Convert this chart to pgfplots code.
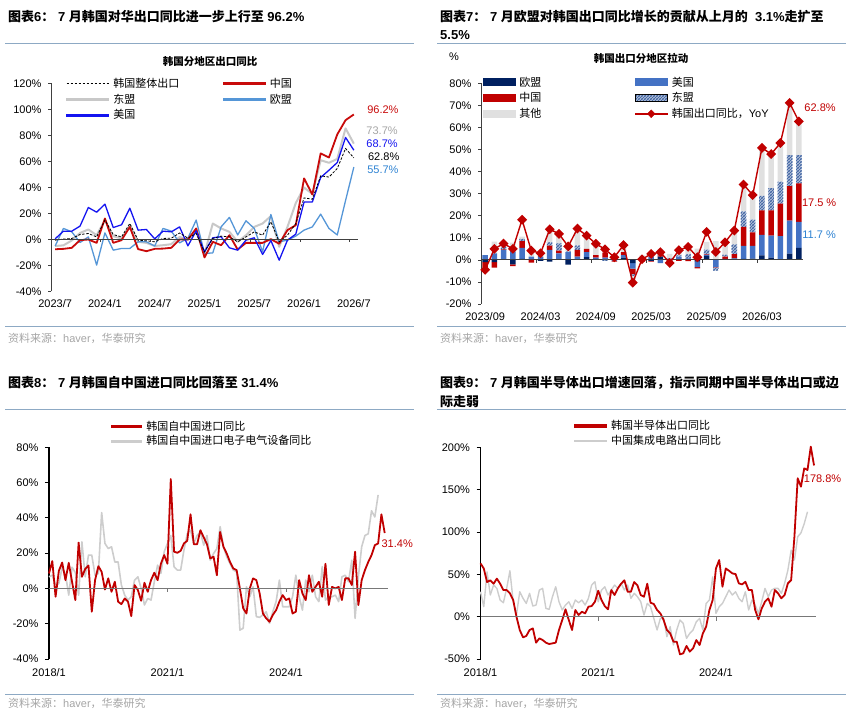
\documentclass[border=0pt]{standalone}
\usepackage{fontspec}
\setmainfont{Liberation Sans}
\newfontfamily\cjk{Noto Sans CJK SC}
\newcommand\zh[1]{{\cjk #1}}
\usepackage{pgfplots}
\pgfplotsset{compat=1.18}
\usepackage{pgfplotstable}
\usetikzlibrary{patterns}
\pgfdeclarepatternformonly{stripes}{\pgfqpoint{-1pt}{-1pt}}{\pgfqpoint{4pt}{4pt}}{\pgfqpoint{3pt}{3pt}}{%
  \pgfsetlinewidth{1.1pt}%
  \pgfpathmoveto{\pgfqpoint{-0.5pt}{-0.5pt}}%
  \pgfpathlineto{\pgfqpoint{3.5pt}{3.5pt}}%
  \pgfusepath{stroke}}
\definecolor{sepcol}{RGB}{141,169,196}
\definecolor{footgray}{RGB}{165,165,165}
\definecolor{axdark}{RGB}{64,64,64}
\definecolor{zgray}{RGB}{120,120,120}
\definecolor{cnred}{RGB}{200,10,10}
\definecolor{asgray}{RGB}{200,200,200}
\definecolor{usblue}{RGB}{20,20,240}
\definecolor{eublue}{RGB}{85,150,215}
\definecolor{lbllblue}{RGB}{45,130,210}
\definecolor{lblgray}{RGB}{165,165,165}
\definecolor{euNavy}{RGB}{0,32,96}
\definecolor{usB}{RGB}{68,114,196}
\definecolor{cnR}{RGB}{192,0,0}
\definecolor{hatchB}{RGB}{70,105,165}
\definecolor{otGray}{RGB}{224,224,224}
\definecolor{bgray}{RGB}{205,205,205}

\pgfplotstableread{
m tot cn as eu us
0 -0.5 -7.5 -5 -5 0.5
1 0.3 -7.2 -4.5 8.5 6.4
2 0.8 -6.4 -0.8 5.9 6.4
3 3.8 -0.5 5 -2.3 10.3
4 4.6 0 7.7 2 24.6
5 2 -2.6 3.3 -19.7 21
6 15 16.2 15 5.1 27.2
7 3.8 -2.6 2.5 -8.2 9.2
8 2 -0.5 0.8 -6.9 11.3
9 12.3 9.7 10.5 -6.9 24.1
10 -0.5 -7.4 -1.8 -1.8 7.2
11 -1 -9 -2.6 -1.8 7.7
12 -1.8 -7.2 -5 -5 0.5
13 0.8 -7 -4.4 8.5 6.4
14 1 -6.4 -3.6 6.4 5.9
15 5 0 2 -2.6 9.7
16 1 0 -0.5 1 -4.9
17 4.6 8.5 5.9 15 6.7
18 -9.5 -13.8 -11 -10.8 -9.5
19 0.8 -1.8 12.3 -10.3 1.3
20 2.6 -4.4 8.5 9.7 2.1
21 2 3.3 5.9 17 -6.4
22 -1.8 -7.7 -1.8 3.5 -8.2
23 2 -2.6 3.3 14.4 -0.5
24 5.9 -2.6 9.7 8.5 1.3
25 3.3 -2.6 12.3 -9.5 -11.5
26 13.6 0.3 18 19.2 -0.8
27 -1.8 -3.3 -5.6 -1.8 -15.9
28 3.3 7.2 9.7 -0.5 -0.5
29 12.3 11 28 2.6 4.1
30 32 47 40 7.2 28.9
31 31 34.6 35 9.7 28.9
32 49 66.2 61 19.5 47.7
33 48 63.1 59 8.5 53.3
34 54.6 80.8 62 3.5 59.2
35 70 91.8 85.5 30 78.5
36 62.8 96.2 73.7 55.7 68.7
}\tlA

\pgfplotstableread{
i eu us cn as ot
0 0 2.2 0 0 0
1 0 3.0 0 0 5.3
2 0 4.5 0.3 1.0 2.5
3 0 3.5 0 0.5 3.8
4 0.5 5.0 3.0 1.0 1.0
5 0 1.5 0 0 1.5
6 0 1.2 0.2 0.3 1.5
7 0 4.5 2.0 1.5 6.0
8 0 3.0 1.2 3.3 4.0
9 0 3.5 0 0.3 2.0
10 0.3 1.2 3.0 2.0 6.5
11 1.3 2.2 1.5 0 5.0
12 0.5 0.5 1.2 0 5.0
13 0.3 0.7 2.3 0 1.5
14 0 0 0 0 1.8
15 1.0 1.2 1.3 0 2.5
16 0 0 0 0 0
17 0 0 0 0 2.0
18 0 1.5 0 0 2.1
19 1.5 0 0.5 0.5 2.5
20 0.2 0 0 0.5 2.0
21 0.3 1.2 0 0.5 2.8
22 0.2 0.5 0 1.8 3.9
23 0 0 0 0 5.1
24 1.8 0.5 0.2 2.2 3.5
25 0 0 0 0 8.5
26 0.3 0.2 1.0 0.8 5.8
27 0.5 0.2 1.9 4.4 6.2
28 0.5 5.8 8.7 7.0 12.2
29 0.6 5.7 6.2 5.8 11.0
30 2.0 9.3 11.2 6.5 21.5
31 1.0 10.0 11.5 10.0 15.5
32 0.3 10.5 14.7 10.0 17.5
33 2.8 15.0 15.7 14.0 23.5
34 5.5 11.7 17.5 12.8 15.3
}\trpos

\pgfplotstableread{
i eu us cn as ot
0 -1.0 0 -2.5 0 -1.0
1 -1.0 0 -2.5 0 0
2 0 0 0 0 0
3 -2.0 0 -0.8 0 0
4 0 0 0 0 0
5 0 0 -1.2 0 0
6 -0.5 0 0 0 0
7 -0.8 0 0 0 0
8 0 0 0 0 0
9 -2.2 0 0 0 0
10 0 0 0 0 0
11 0 0 0 0 0
12 0 0 0 0 0
13 0 0 0 -0.5 0
14 0 -0.5 -0.3 0 0
15 0 0 0 0 0
16 -1.5 -2.5 -2.5 -0.8 -3.0
17 0 -0.3 -0.5 0 0
18 -0.5 0 -0.3 0 0
19 0 -1.5 0 0 0
20 0 -1.2 -0.5 0 0
21 0 0 -0.5 0 0
22 0 0 -0.6 0 0
23 -0.8 -2.5 -0.5 0 0
24 0 0 0 0 0
25 0 -3.2 -0.2 -1.5 0
}\trneg

\pgfplotstableread{
i yoy
0 -4.5
1 5.0
2 7.4
3 5.0
4 18.2
5 4.2
6 3.0
7 13.9
8 11.8
9 6.1
10 14.2
11 11.0
12 7.3
13 4.8
14 1.2
15 6.7
16 -10.3
17 0.3
18 2.7
19 3.5
20 -1.4
21 4.4
22 5.9
23 1.2
24 12.7
25 3.6
26 8.0
27 13.3
28 34.2
29 29.4
30 50.8
31 48.0
32 53.0
33 71.2
34 62.8
}\tryoy

\pgfplotstableread{
m v
0 8.5
1 15.5
2 -4.7
3 10
4 14.7
5 4.7
6 14.5
7 3.8
8 -6.6
9 26
10 6.6
11 11
12 13
13 -13.2
14 4.7
15 12.6
16 9.4
17 -0.6
18 5.7
19 -1.9
20 3.8
21 -7.5
22 -8.9
23 -5.7
24 -7.5
25 -15.7
26 1.9
27 -0.9
28 -7
29 3.2
30 -1.9
31 4.7
32 8.9
33 4.7
34 14
35 18.9
36 14
37 62
38 20.8
39 20.2
40 21.3
41 25.5
42 27
43 42
44 25
45 25
46 33
47 29
48 25
49 17
50 18
51 7.5
52 32
53 23.6
54 19.8
55 15
56 11.3
57 10.4
58 0
59 -11.3
60 -14.2
61 0
62 5.7
63 4.7
64 -2.8
65 -14.2
66 -17
67 -18.9
68 -15
69 -12.3
70 -7.5
71 -3.8
72 -6.6
73 -5.7
74 -14.2
75 -13.2
76 4.7
77 -2.8
78 -6.6
79 7.5
80 -1.9
81 0.9
82 3.8
83 -4.7
84 14
85 -9.4
86 0.9
87 0
88 0.9
89 -6.6
90 5.7
91 5.7
92 1.9
93 20.8
94 -9.4
95 4.7
96 10.4
97 15
98 18.9
99 24.5
100 25.5
101 42
102 31.4
}\blRed

\pgfplotstableread{
m v
0 6.6
1 7.5
2 2
3 2.8
4 12
5 8
6 -3.8
7 12
8 9
9 -3.8
10 26.4
11 6.6
12 18.9
13 18.9
14 7.5
15 8.5
16 43
17 25.5
18 22.6
19 23.6
20 15
21 15
22 1.9
23 -3.8
24 -6.6
25 -4.7
26 4.7
27 6.6
28 0
29 -9.4
30 -5.7
31 -6.6
32 3.8
33 13.2
34 8.5
35 20.8
36 25.5
37 30
38 12.3
39 10.4
40 10.4
41 21.7
42 31
43 33
44 25.5
45 30
46 32
47 24.5
48 30
49 16
50 19.8
51 22.6
52 35
53 23.6
54 18
55 14
56 10.4
57 9.4
58 -23.6
59 -22.6
60 0.9
61 -4.7
62 0.9
63 -16
64 -16.4
65 -15
66 -13.2
67 -19.8
68 -13.2
69 -7.5
70 4.7
71 -10.4
72 -10.4
73 -10.4
74 -4.7
75 7.5
76 -4.7
77 -12.3
78 4.7
79 -1.9
80 7.5
81 -4.7
82 -7.5
83 12.3
84 -6.6
85 -4.7
86 -4.7
87 -3.8
88 -7.5
89 6.6
90 7.5
91 3.8
92 16
93 -17
94 6.6
95 23.6
96 30
97 31
98 44
99 40.5
100 53
}\blGray

\pgfplotstableread{
m v
0 63
1 57
2 41
3 43
4 39
5 45
6 39
7 31.5
8 31.5
9 27.6
10 19.7
11 0
12 -15.7
13 -24.4
14 -22.8
15 -15.7
16 -13.8
17 -30.7
18 -25.6
19 -27.6
20 -30.7
21 -32.3
22 -31.5
23 -30.7
24 -15.7
25 -3.9
26 8.7
27 -3.9
28 -15.7
29 7.9
30 2
31 5.9
32 3.9
33 11.8
34 12.6
35 17.7
36 30.7
37 19.7
38 12.6
39 8.7
40 31.5
41 25.6
42 33.5
43 39
44 43
45 29.5
46 29.5
47 41
48 37
49 25.6
50 23.6
51 39
52 16.5
53 15
54 7.9
55 3.9
56 -3.9
57 -15.7
58 -19.7
59 -29.5
60 -29.5
61 -44.5
62 -43.3
63 -34.6
64 -41.3
65 -37.4
66 -27.6
67 -33.5
68 -19.7
69 -11.8
70 7.9
71 19.7
72 57
73 67
74 35.4
75 57
76 54.3
77 51.2
78 50.4
79 39.4
80 38.2
81 41.3
82 31.5
83 31.5
84 7.9
85 -3.1
86 9.8
87 17.7
88 21.7
89 11.8
90 31.5
91 27.6
92 21.7
93 25.6
94 39.4
95 43.3
96 94.6
97 163.6
98 153.7
99 175.4
100 173.4
101 201
102 178.8
}\brRed

\pgfplotstableread{
m v
0 29.5
1 11.8
2 53
3 25.6
4 37.4
5 33.5
6 19.7
7 16.5
8 33.5
9 54.3
10 17.7
11 2
12 29.5
13 21.7
14 15.7
15 27.6
16 12.6
17 13.8
18 31.5
19 33.5
20 9.8
21 8.7
22 23.6
23 35.4
24 17.7
25 7.9
26 13.8
27 17.7
28 9.8
29 19.7
30 16.5
31 19.7
32 13.8
33 21.7
34 37.4
35 41.3
36 17.7
37 31.5
38 35.4
39 25.6
40 31.5
41 37.4
42 33.5
43 39.4
44 31.5
45 37.4
46 21.7
47 27.6
48 23.6
49 17.7
50 2
51 15.7
52 11.8
53 -2
54 -15.7
55 -2
56 -2
57 -23.6
58 -11.8
59 -33.5
60 -15.7
61 -3.9
62 -7.9
63 -25.6
64 -19.7
65 -15.7
66 -5.9
67 -2
68 -15.7
69 15.7
70 19.7
71 47
72 3.9
73 11.8
74 15.7
75 23.6
76 31.5
77 25.6
78 29.5
79 21.7
80 17.7
81 29.5
82 7.9
83 19.7
84 13.8
85 3.9
86 17.7
87 33.5
88 23.6
89 31.5
90 33.5
91 33.5
92 27.6
93 39.4
94 55
95 78.7
96 67
97 94.5
98 99
99 110
100 124
}\brGray

\pgfplotsset{
  base/.style={scale only axis, clip=false, tick align=outside,
    ticklabel style={font=\fontsize{11}{13}\selectfont},
    axis y line*=left, axis x line*=bottom,
    x axis line style={draw=none}, x tick style={draw=none},
    yticklabel={\pgfmathparse{int(\tick)}\pgfmathresult\%},
    yticklabel style={xshift=-3pt}, xticklabel style={yshift=-2pt},
    legend cell align=left},
  leg/.style={draw=none, fill=none, inner sep=0pt,
    font=\fontsize{11}{13}\selectfont, row sep=2pt, nodes={inner sep=1.5pt}},
}
\tikzset{ttl/.style={anchor=west, inner sep=0pt, font=\bfseries\fontsize{13}{15}\selectfont},
  foot/.style={anchor=west, inner sep=0pt, text=footgray, font=\fontsize{11}{13}\selectfont},
  lbl/.style={font=\fontsize{11}{13}\selectfont, inner sep=0pt}}
% legend swatch: a filled bar of given colour, length and thickness
\newcommand\swatch[3]{\fill[#1] (0pt,-#3/2) rectangle (#2,#3/2);}

\begin{document}
\begin{tikzpicture}[x=1pt,y=1pt]
\useasboundingbox (0,0) rectangle (864,717);

% ---------- titles, separators, footers
\node[ttl] at (8,700) {\zh{图表}6\zh{：} 7 \zh{月韩国对华出口同比进一步上行至} 96.2\%};
\node[ttl] at (440,700) {\zh{图表}7\zh{：} 7 \zh{月欧盟对韩国出口同比增长的贡献从上月的}\ \ 3.1\%\zh{走扩至}};
\node[ttl] at (440,682) {5.5\%};
\node[ttl] at (8,334) {\zh{图表}8\zh{：} 7 \zh{月韩国自中国进口同比回落至} 31.4\%};
\node[ttl] at (440,334) {\zh{图表}9\zh{：} 7 \zh{月韩国半导体出口增速回落，指示同期中国半导体出口或边}};
\node[ttl] at (440,315) {\zh{际走弱}};
\foreach \yy in {673,390,307,23} {
  \draw[sepcol, line width=1pt] (5,\yy) -- (414,\yy);
  \draw[sepcol, line width=1pt] (437,\yy) -- (846,\yy);
}
\node[foot] at (8,379) {\zh{资料来源：}haver\zh{，华泰研究}};
\node[foot] at (440,379) {\zh{资料来源：}haver\zh{，华泰研究}};
\node[foot] at (8,14) {\zh{资料来源：}haver\zh{，华泰研究}};
\node[foot] at (440,14) {\zh{资料来源：}haver\zh{，华泰研究}};
\node[font=\bfseries\fontsize{10.5}{12}\selectfont, inner sep=0pt] at (210,655) {\zh{韩国分地区出口同比}};
\node[font=\bfseries\fontsize{10.5}{12}\selectfont, inner sep=0pt] at (641,659) {\zh{韩国出口分地区拉动}};
\node[lbl] at (454,660) {\%};

% ---------- chart 6
\begin{axis}[base, at={(51pt,425.5pt)}, anchor=south west, width=307pt, height=208pt,
  xmin=-0.5, xmax=36.5, ymin=-40, ymax=120, ytick={-40,-20,...,120},
  xtick={0,6,...,36}, xticklabels={2023/7,2024/1,2024/7,2025/1,2025/7,2026/1,2026/7},
  y axis line style={draw=axdark, line width=0.8pt}, y tick style={draw=axdark, line width=0.6pt},
  major tick length=3pt,
  legend columns=2,
  legend style={leg, at={(axis cs:1.3,125.5)}, anchor=north west,
    /tikz/every odd column/.append style={column sep=3pt},
    /tikz/every even column/.append style={column sep=42pt}}]
\addplot[forget plot, asgray, line width=2pt, line join=round] table[x=m,y=as]{\tlA};
\addplot[forget plot, eublue, line width=1.3pt, line join=round] table[x=m,y=eu]{\tlA};
\addplot[forget plot, cnred, line width=1.8pt, line join=round] table[x=m,y=cn]{\tlA};
\addplot[forget plot, usblue, line width=1.3pt, line join=round] table[x=m,y=us]{\tlA};
\addplot[forget plot, black, line width=0.8pt, dash pattern=on 2.5pt off 1.5pt] table[x=m,y=tot]{\tlA};
\draw[axdark, line width=0.8pt] (axis cs:-0.5,0) -- (axis cs:36.5,0);
\pgfplotsinvokeforeach{5.5,11.5,17.5,23.5,29.5,35.5}{\draw[axdark, line width=0.6pt] (axis cs:#1,0) -- ([yshift=-3pt]axis cs:#1,0);}
\addlegendimage{legend image code/.code={\draw[black, line width=0.8pt, dash pattern=on 2.5pt off 1.5pt] (0pt,0pt) -- (42pt,0pt);}}\addlegendentry{\zh{韩国整体出口}}
\addlegendimage{legend image code/.code={\swatch{cnred}{42pt}{1.9pt}}}\addlegendentry{\zh{中国}}
\addlegendimage{legend image code/.code={\swatch{asgray}{42pt}{2.2pt}}}\addlegendentry{\zh{东盟}}
\addlegendimage{legend image code/.code={\swatch{eublue}{42pt}{1.5pt}}}\addlegendentry{\zh{欧盟}}
\addlegendimage{legend image code/.code={\swatch{usblue}{42pt}{1.5pt}}}\addlegendentry{\zh{美国}}
\node[lbl, text=cnred] at (axis cs:39.5,99.5) {96.2\%};
\node[lbl, text=lblgray] at (axis cs:39.4,84) {73.7\%};
\node[lbl, text=usblue] at (axis cs:39.4,73.3) {68.7\%};
\node[lbl, text=black] at (axis cs:39.6,63.3) {62.8\%};
\node[lbl, text=lbllblue] at (axis cs:39.5,54) {55.7\%};
\end{axis}

% ---------- chart 7 : positive stacks
\begin{axis}[scale only axis, hide axis, clip=false, at={(481pt,413pt)}, anchor=south west,
  width=322pt, height=220.5pt, xmin=-0.45, xmax=34.45, ymin=-20, ymax=80,
  ybar stacked, bar width=5.5pt]
\addplot[fill=euNavy, draw=none] table[x=i,y=eu]{\trpos};
\addplot[fill=usB, draw=none] table[x=i,y=us]{\trpos};
\addplot[fill=cnR, draw=none] table[x=i,y=cn]{\trpos};
\addplot[fill=white, draw=none, postaction={pattern=stripes, pattern color=hatchB}] table[x=i,y=as]{\trpos};
\addplot[fill=otGray, draw=none] table[x=i,y=ot]{\trpos};
\end{axis}
% negative stacks + axes
\begin{axis}[base, at={(481pt,413pt)}, anchor=south west,
  width=322pt, height=220.5pt, xmin=-0.45, xmax=34.45, ymin=-20, ymax=80,
  ytick={-20,-10,...,80}, xtick={0,6,...,30},
  xticklabels={2023/09,2024/03,2024/09,2025/03,2025/09,2026/03},
  y axis line style={draw=axdark, line width=0.8pt}, y tick style={draw=axdark, line width=0.6pt},
  major tick length=3pt, ybar stacked, bar width=5.5pt]
\addplot[fill=euNavy, draw=none] table[x=i,y=eu]{\trneg};
\addplot[fill=usB, draw=none] table[x=i,y=us]{\trneg};
\addplot[fill=cnR, draw=none] table[x=i,y=cn]{\trneg};
\addplot[fill=white, draw=none, postaction={pattern=stripes, pattern color=hatchB}] table[x=i,y=as]{\trneg};
\addplot[fill=otGray, draw=none] table[x=i,y=ot]{\trneg};
\draw[axdark, line width=0.8pt] (axis cs:-0.45,0) -- (axis cs:34.45,0);
\pgfplotsinvokeforeach{5.5,11.5,17.5,23.5,29.5}{\draw[axdark, line width=0.6pt] (axis cs:#1,0) -- ([yshift=-3pt]axis cs:#1,0);}
\end{axis}
% YoY line + legend
\begin{axis}[scale only axis, hide axis, clip=false, at={(481pt,413pt)}, anchor=south west,
  width=322pt, height=220.5pt, xmin=-0.45, xmax=34.45, ymin=-20, ymax=80,
  legend columns=2, legend cell align=left,
  legend style={leg, at={(axis cs:-0.3,83.8)}, anchor=north west,
    /tikz/every odd column/.append style={column sep=3pt},
    /tikz/every even column/.append style={column sep=92pt}}]
\addplot[forget plot, cnR, line width=1.4pt, mark=square*, mark size=2.8pt,
  mark options={rotate=45, solid, fill=cnR}] table[x=i,y=yoy]{\tryoy};
\addlegendimage{legend image code/.code={\swatch{euNavy}{32pt}{7pt}}}\addlegendentry{\zh{欧盟}}
\addlegendimage{legend image code/.code={\swatch{usB}{32pt}{7pt}}}\addlegendentry{\zh{美国}}
\addlegendimage{legend image code/.code={\swatch{cnR}{32pt}{7pt}}}\addlegendentry{\zh{中国}}
\addlegendimage{legend image code/.code={\swatch{white}{32pt}{7pt}\fill[pattern=stripes, pattern color=hatchB] (0pt,-3.5pt) rectangle (32pt,3.5pt);}}\addlegendentry{\zh{东盟}}
\addlegendimage{legend image code/.code={\swatch{otGray}{32pt}{7pt}}}\addlegendentry{\zh{其他}}
\addlegendimage{legend image code/.code={\swatch{cnR}{32pt}{1.5pt}\fill[cnR] (16pt,3.9pt) -- (19.8pt,0pt) -- (16pt,-3.9pt) -- (12.2pt,0pt) -- cycle;}}\addlegendentry{\zh{韩国出口同比，}YoY}
\node[lbl, text=cnR] at (axis cs:36.3,68.9) {62.8\%};
\node[lbl, text=cnR] at (axis cs:36.2,25.9) {17.5 \%};
\node[lbl, text=lbllblue] at (axis cs:36.2,11.3) {11.7 \%};
\end{axis}

% ---------- chart 8
\begin{axis}[base, at={(49pt,58pt)}, anchor=south west, width=339pt, height=211.7pt,
  xmin=0, xmax=103, ymin=-40, ymax=80, ytick={-40,-20,...,80},
  xtick={0,36,72}, xticklabels={2018/1,2021/1,2024/1},
  y axis line style={draw=black, line width=1.2pt}, y tick style={draw=black, line width=0.8pt},
  major tick length=4pt,
  legend style={leg, row sep=1pt, at={(axis cs:18.9,96)}, anchor=north west,
    /tikz/every odd column/.append style={column sep=3pt}}]
\addplot[forget plot, bgray, line width=1.6pt, line join=round] table[x=m,y=v]{\blGray};
\addplot[forget plot, cnR, line width=1.8pt, line join=round] table[x=m,y=v]{\blRed};
\draw[zgray, line width=1pt] (axis cs:0,0) -- (axis cs:103,0);
\pgfplotsinvokeforeach{36,72}{\draw[zgray, line width=0.8pt] (axis cs:#1,0) -- ([yshift=-4pt]axis cs:#1,0);}
\addlegendimage{legend image code/.code={\swatch{cnR}{30pt}{2.2pt}}}\addlegendentry{\zh{韩国自中国进口同比}}
\addlegendimage{legend image code/.code={\swatch{bgray}{30pt}{1.8pt}}}\addlegendentry{\zh{韩国自中国进口电子电气设备同比}}
\node[lbl, text=cnR] at (axis cs:105.8,25.1) {31.4\%};
\end{axis}

% ---------- chart 9
\begin{axis}[base, at={(480.5pt,58pt)}, anchor=south west, width=335.5pt, height=211.5pt,
  xmin=0, xmax=102.6, ymin=-50, ymax=200, ytick={-50,0,...,200},
  xtick={0,36,72}, xticklabels={2018/1,2021/1,2024/1},
  y axis line style={draw=black, line width=1.2pt}, y tick style={draw=black, line width=0.8pt},
  major tick length=4pt,
  legend style={leg, row sep=1pt, at={(axis cs:28.6,234)}, anchor=north west,
    /tikz/every odd column/.append style={column sep=3pt}}]
\addplot[forget plot, bgray, line width=1.4pt, line join=round] table[x=m,y=v]{\brGray};
\addplot[forget plot, cnR, line width=1.8pt, line join=round] table[x=m,y=v]{\brRed};
\draw[zgray, line width=1pt] (axis cs:0,0) -- (axis cs:102.6,0);
\pgfplotsinvokeforeach{36,72}{\draw[zgray, line width=0.8pt] (axis cs:#1,0) -- ([yshift=-4pt]axis cs:#1,0);}
\addlegendimage{legend image code/.code={\swatch{cnR}{32pt}{2.4pt}}}\addlegendentry{\zh{韩国半导体出口同比}}
\addlegendimage{legend image code/.code={\swatch{bgray}{32pt}{1.6pt}}}\addlegendentry{\zh{中国集成电路出口同比}}
\node[lbl, text=cnR] at (axis cs:104.6,162.8) {178.8\%};
\end{axis}
\end{tikzpicture}
\end{document}
